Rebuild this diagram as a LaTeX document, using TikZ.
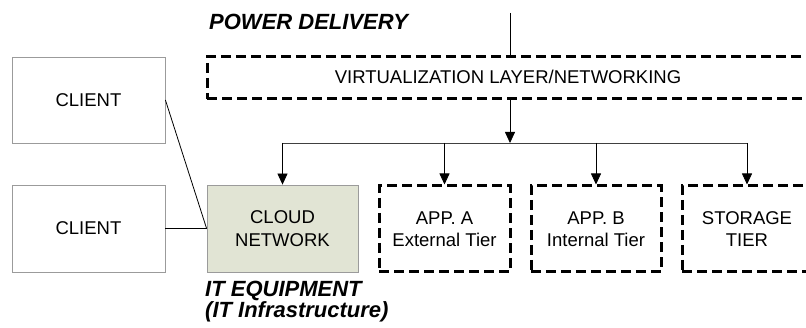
\documentclass[tikz,border=0pt]{standalone}
\usepackage{fontspec}
\setmainfont{Liberation Sans}
\usetikzlibrary{arrows.meta}
\definecolor{cloudfill}{RGB}{225,228,212}
\definecolor{boxgray}{RGB}{155,155,155}
\tikzset{
  txt/.style={font=\fontsize{18.5}{22.5}\selectfont, align=center},
  clientbox/.style={txt, draw=boxgray, line width=0.8pt, minimum width=153pt, minimum height=86pt, inner sep=0pt},
  cloudbox/.style={clientbox, fill=cloudfill, minimum width=151pt, minimum height=87pt},
  dashbox/.style={txt, draw=black, line width=3pt, dash pattern=on 10pt off 5pt, minimum height=86pt, inner sep=0pt},
  conn/.style={draw=black, line width=0.8pt},
  arr/.style={conn, -{Triangle[width=10pt,length=11pt]}},
  biglabel/.style={font=\fontsize{22}{22}\selectfont\bfseries\itshape, anchor=base west, inner sep=0pt}
}
\begin{document}
\begin{tikzpicture}[x=1pt,y=-1pt]
\useasboundingbox (0,0) rectangle (806,328);
\clip (0,0) rectangle (806,328);
\fill[white] (0,0) rectangle (806,328);

\node[clientbox] (client1) at (88.5,100) {CLIENT};
\node[clientbox, minimum height=87pt] (client2) at (88.5,228.5) {CLIENT};
\node[cloudbox] (cloud) at (282.5,228.5) {CLOUD\\NETWORK};
\node[dashbox, minimum width=131pt] (appa) at (444.5,229) {APP. A\\External Tier};
\node[dashbox, minimum width=130pt] (appb) at (596,229) {APP. B\\Internal Tier};
\node[dashbox, minimum width=130pt] (storage) at (747,229) {STORAGE\\TIER};
\node[dashbox, minimum width=606pt, minimum height=42pt] (virt) at (510,78) {};
\node[txt, anchor=base] (virttext) at (508,84) {VIRTUALIZATION LAYER/NETWORKING};

\node[biglabel] (power) at (209,30) {POWER DELIVERY};
\node[biglabel] (itequip) at (205,297) {IT EQUIPMENT};
\node[biglabel] (itinfra) at (205,318) {(IT Infrastructure)};

\coordinate (pwr) at (510,13);
\coordinate (bus) at (510,143);
\draw[conn] (pwr) -- (virt.north);
\draw[arr] (virt.south) -- (bus);
\draw[conn, draw=black!75] (cloud.north |- bus) -- (storage.north |- bus);
\draw[arr] (cloud.north |- bus) -- (cloud.north);
\draw[arr] (appa.north |- bus) -- (appa.north);
\draw[arr] (appb.north |- bus) -- (appb.north);
\draw[arr] (storage.north |- bus) -- (storage.north);

\draw[conn] (client1.east) -- (cloud.west);
\draw[conn] (client2.east) -- (cloud.west);
\end{tikzpicture}
\end{document}
